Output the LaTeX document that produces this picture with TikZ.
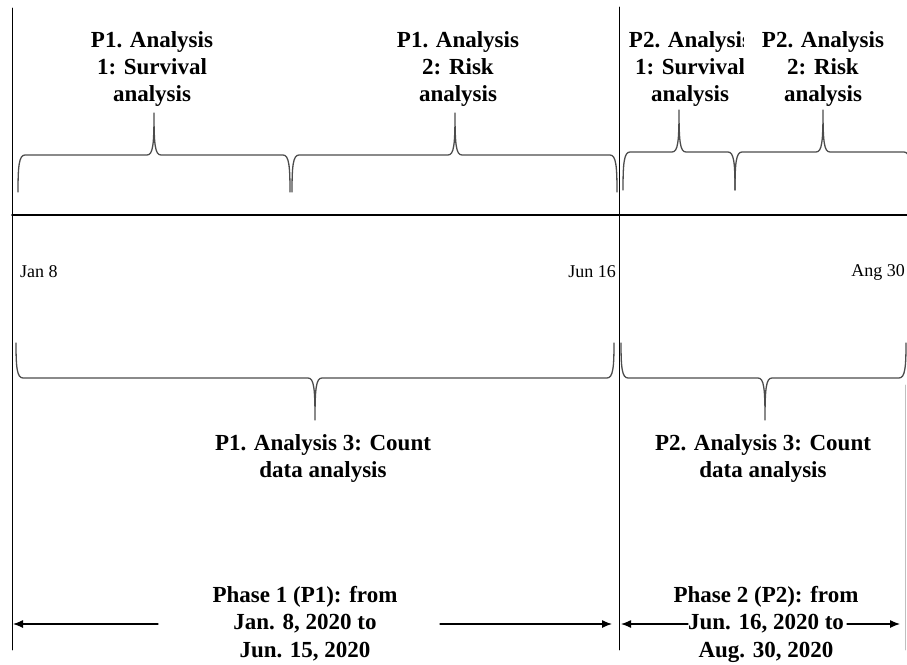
\documentclass[tikz,border=0pt]{standalone}
\usepackage{fontspec}
\setmainfont{Liberation Serif}
\usetikzlibrary{arrows.meta}

% curly brace: x start, x end, x tip, y ends, y flat part, y tip
\newcommand{\timebrace}[6]{%
  \pgfmathsetmacro{\brya}{#5+0.3*(#4-#5)}
  \pgfmathsetmacro{\bryb}{#5+0.25*(#6-#5)}
  \draw[bracestyle] (#1,#4) .. controls (#1,\brya) and (#1+1,#5) .. (#1+7,#5)
    -- (#3-7,#5) .. controls (#3-1,#5) and (#3,\bryb) .. (#3,#6)
    .. controls (#3,\bryb) and (#3+1,#5) .. (#3+7,#5)
    -- (#2-7,#5) .. controls (#2-1,#5) and (#2,\brya) .. (#2,#4);
}

\begin{document}
\begin{tikzpicture}[x=1pt, y=-1pt, line cap=round, line join=round,
  lbl/.style={font=\bfseries\fontsize{23}{27}\selectfont, align=center, inner sep=0pt, anchor=north},
  datelbl/.style={font=\fontsize{18}{20}\selectfont, inner sep=0pt},
  bracestyle/.style={line width=1.3pt, black!70},
  phasearrow/.style={-{Latex[length=10pt,width=8pt]}, line width=1.2pt}]
  \useasboundingbox (0,0) rectangle (907,664);

  \coordinate (LT) at (12,8);
  \coordinate (LB) at (12,650);
  \coordinate (MT) at (619,7);
  \coordinate (MB) at (619,650);
  \coordinate (AxL) at (12,215);
  \coordinate (AxR) at (907,215);

  % frame of the two phases
  \draw[line width=0.9pt] (LT) -- (LB);
  \draw[line width=0.9pt] (MT) -- (MB);
  \draw[line width=1.8pt] (AxL) -- (AxR);
  \draw[black!25, line width=0.8pt] (905,385) -- (905,650);

  % analyses 1 and 2
  \timebrace{18}{290}{154}{192}{155}{113}
  \timebrace{292}{617}{455}{192}{155}{113}
  \timebrace{623}{735}{679}{190}{152}{110}
  \timebrace{735}{911}{823}{190}{152}{110}

  \node[lbl] (p1a1) at (152,31.5) {P1. Analysis\\1: Survival\\analysis};
  \node[lbl] (p1a2) at (458,31.5) {P1. Analysis\\2: Risk\\analysis};
  \node[lbl] (p2a1) at (690,31.5) {P2. Analysis\\1: Survival\\analysis};
  \node[lbl, fill=white, inner xsep=18pt] (p2a2) at (823,31.5) {P2. Analysis\\2: Risk\\analysis};

  % dates
  \node[datelbl, anchor=west] (jan) at (20,272) {Jan 8};
  \node[datelbl, anchor=east] (jun) at (616,272) {Jun 16};
  \node[datelbl, anchor=east] (aug) at (905,272) {Ang 30};

  % analysis 3
  \timebrace{16}{614}{315}{343}{378}{420}
  \timebrace{621}{906}{765}{343}{378}{420}

  \node[lbl] (p1a3) at (323,434.5) {P1. Analysis 3: Count\\data analysis};
  \node[lbl] (p2a3) at (763,434.5) {P2. Analysis 3: Count\\data analysis};

  % phases
  \node[lbl, font=\bfseries\fontsize{23}{27.5}\selectfont] (ph1) at (305,586) {Phase 1 (P1): from\\Jan. 8, 2020 to\\Jun. 15, 2020};
  \node[lbl, font=\bfseries\fontsize{23}{27.5}\selectfont] (ph2) at (766,586) {Phase 2 (P2): from\\Jun. 16, 2020 to\\Aug. 30, 2020};

  \coordinate (a1s) at (158,624);
  \coordinate (a1e) at (13,624);
  \coordinate (a2s) at (440,624);
  \coordinate (a2e) at (612,624);
  \coordinate (a3s) at (688,624);
  \coordinate (a3e) at (621,624);
  \coordinate (a4s) at (847,624);
  \coordinate (a4e) at (900,624);
  \draw[phasearrow] (a1s) -- (a1e);
  \draw[phasearrow] (a2s) -- (a2e);
  \draw[phasearrow] (a3s) -- (a3e);
  \draw[phasearrow] (a4s) -- (a4e);
\end{tikzpicture}
\end{document}
